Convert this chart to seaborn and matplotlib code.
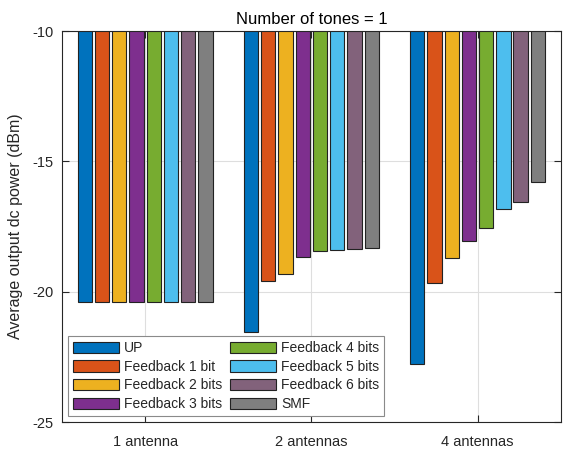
import matplotlib
matplotlib.use("Agg")
import matplotlib.pyplot as plt
import seaborn as sns
import pandas as pd

# Array configurations (x-axis groups)
configs = ["1 antenna", "2 antennas", "4 antennas"]

# Precoding schemes (legend entries)
schemes = ["UP", "Feedback 1 bit", "Feedback 2 bits", "Feedback 3 bits",
           "Feedback 4 bits", "Feedback 5 bits", "Feedback 6 bits", "SMF"]

# Average output dc power (dBm) per scheme, one value per configuration
up = [-20.40, -21.55, -22.76]
fb1 = [-20.40, -19.60, -19.65]
fb2 = [-20.40, -19.31, -18.71]
fb3 = [-20.40, -18.68, -18.07]
fb4 = [-20.40, -18.42, -17.57]
fb5 = [-20.40, -18.41, -16.84]
fb6 = [-20.40, -18.37, -16.57]
smf = [-20.40, -18.31, -15.80]

series = [up, fb1, fb2, fb3, fb4, fb5, fb6, smf]

palette = ["#0072BD", "#D95319", "#EDB120", "#7E2F8E",
           "#77AC30", "#4DBEEE", "#82627B", "#7F7F7F"]

rows = []
for name, vals in zip(schemes, series):
    for cfg, v in zip(configs, vals):
        rows.append({"config": cfg, "scheme": name, "power": v})
df = pd.DataFrame(rows)

sns.set_style("white")
plt.rcParams["font.family"] = ["Liberation Sans", "DejaVu Sans"]

fig = plt.figure(figsize=(5.64, 4.5), dpi=100)
ax = fig.add_axes([0.110, 0.062, 0.884, 0.869])

sns.barplot(data=df, x="config", y="power", hue="scheme",
            order=configs, hue_order=schemes, palette=palette,
            width=0.83, gap=0.17, edgecolor="#222222", linewidth=0.8,
            saturation=1, errorbar=None, ax=ax, zorder=2)

ax.set_ylim(-25, -10)
ax.set_xlim(-0.5, 2.5)
ax.set_yticks([-25, -20, -15, -10])
ax.set_yticklabels(["-25", "-20", "-15", "-10"])

ax.grid(True, color="#dedede", linewidth=0.8, zorder=0)
ax.set_axisbelow(True)

for side in ["left", "right", "top", "bottom"]:
    ax.spines[side].set_visible(True)
    ax.spines[side].set_color("#262626")
    ax.spines[side].set_linewidth(0.8)
    ax.spines[side].set_zorder(5)

ax.tick_params(axis="both", which="both", direction="in", length=5,
               width=0.8, color="#262626", labelsize=10.5, labelcolor="#262626",
               top=True, right=True, bottom=True, left=True)
ax.tick_params(axis="x", pad=9)
ax.tick_params(axis="y", pad=6)

ax.set_xlabel("")
ax.set_ylabel("Average output dc power (dBm)", fontsize=11.5, color="#262626",
              labelpad=7)
ax.set_title("Number of tones = 1", fontsize=12, color="black", pad=5)

leg = ax.legend(loc="lower left", ncol=2, fontsize=10, frameon=True,
                fancybox=False, edgecolor="#8a8a8a", framealpha=1,
                handlelength=3.3, handleheight=0.85, handletextpad=0.35,
                labelspacing=0.33, columnspacing=0.6, borderpad=0.35,
                borderaxespad=0.45)
leg.get_frame().set_linewidth(0.8)
leg.set_zorder(6)

fig.savefig("out.png", dpi=100)
